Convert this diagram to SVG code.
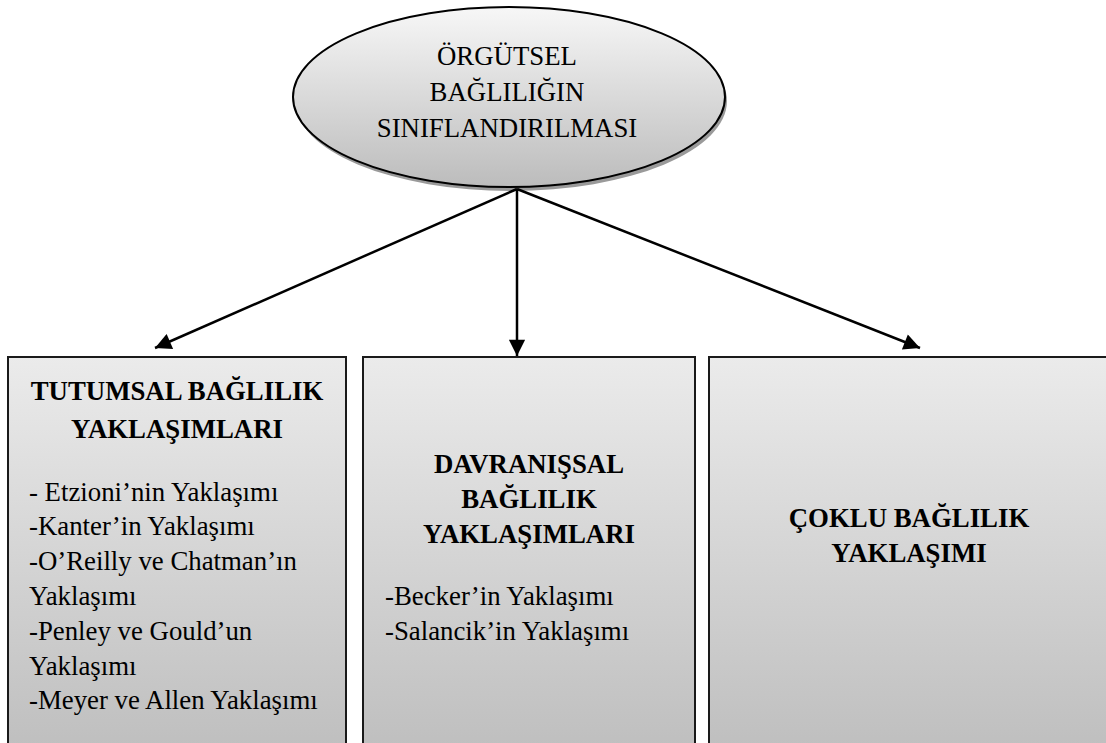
<svg xmlns="http://www.w3.org/2000/svg" width="1106" height="743" viewBox="0 0 1106 743">
<style>
.t{font-family:"Liberation Serif","Times New Roman",serif;font-size:26.8px;fill:#000}
.b{font-weight:bold}
.c{text-anchor:middle}
.box{fill:url(#gb);stroke:#1a1a1a;stroke-width:2}
.con{stroke:#000;stroke-width:2.5;fill:none;marker-end:url(#ah)}
</style>
<defs>
<linearGradient id="gb" x1="0" y1="0" x2="0" y2="1">
<stop offset="0" stop-color="#ebebeb"/>
<stop offset="1" stop-color="#bfbfbf"/>
</linearGradient>
<linearGradient id="ge" x1="0" y1="0" x2="0" y2="1">
<stop offset="0" stop-color="#f7f7f7"/>
<stop offset="1" stop-color="#bcbcbc"/>
</linearGradient>
<marker id="ah" viewBox="0 0 10 10" refX="10" refY="5" markerWidth="7.5" markerHeight="6.5" markerUnits="strokeWidth" orient="auto">
<path d="M0,0 L10,5 L0,10 Z" fill="#000"/>
</marker>
</defs>
<g id="root">
<ellipse cx="511" cy="101" rx="216" ry="90" fill="#9a9a9a"/>
<ellipse cx="509" cy="97" rx="216" ry="90" fill="url(#ge)" stroke="#000" stroke-width="2"/>
<text class="t c" x="507" y="65">ÖRGÜTSEL</text>
<text class="t c" x="507" y="101">BAĞLILIĞIN</text>
<text class="t c" x="507" y="137">SINIFLANDIRILMASI</text>
</g>
<g id="connectors">
<line class="con" x1="517" y1="189" x2="155" y2="348"/>
<line class="con" x1="517" y1="189" x2="517" y2="356"/>
<line class="con" x1="517" y1="189" x2="920" y2="348"/>
</g>
<g id="tutumsal">
<rect class="box" x="8" y="357" width="338" height="390"/>
<text class="t b c" x="177" y="400">TUTUMSAL BAĞLILIK</text>
<text class="t b c" x="177" y="438">YAKLAŞIMLARI</text>
<text class="t" x="29" y="501">- Etzioni’nin Yaklaşımı</text>
<text class="t" x="29" y="535">-Kanter’in Yaklaşımı</text>
<text class="t" x="29" y="570">-O’Reilly ve Chatman’ın</text>
<text class="t" x="29" y="605">Yaklaşımı</text>
<text class="t" x="29" y="640">-Penley ve Gould’un</text>
<text class="t" x="29" y="675">Yaklaşımı</text>
<text class="t" x="29" y="709">-Meyer ve Allen Yaklaşımı</text>
</g>
<g id="davranissal">
<rect class="box" x="363" y="357" width="332" height="390"/>
<text class="t b c" x="529" y="473">DAVRANIŞSAL</text>
<text class="t b c" x="529" y="508">BAĞLILIK</text>
<text class="t b c" x="529" y="543">YAKLAŞIMLARI</text>
<text class="t" x="385" y="605">-Becker’in Yaklaşımı</text>
<text class="t" x="385" y="640">-Salancik’in Yaklaşımı</text>
</g>
<g id="coklu">
<rect class="box" x="709" y="357" width="405" height="390"/>
<text class="t b c" x="909" y="527">ÇOKLU BAĞLILIK</text>
<text class="t b c" x="909" y="562">YAKLAŞIMI</text>
</g>
</svg>
